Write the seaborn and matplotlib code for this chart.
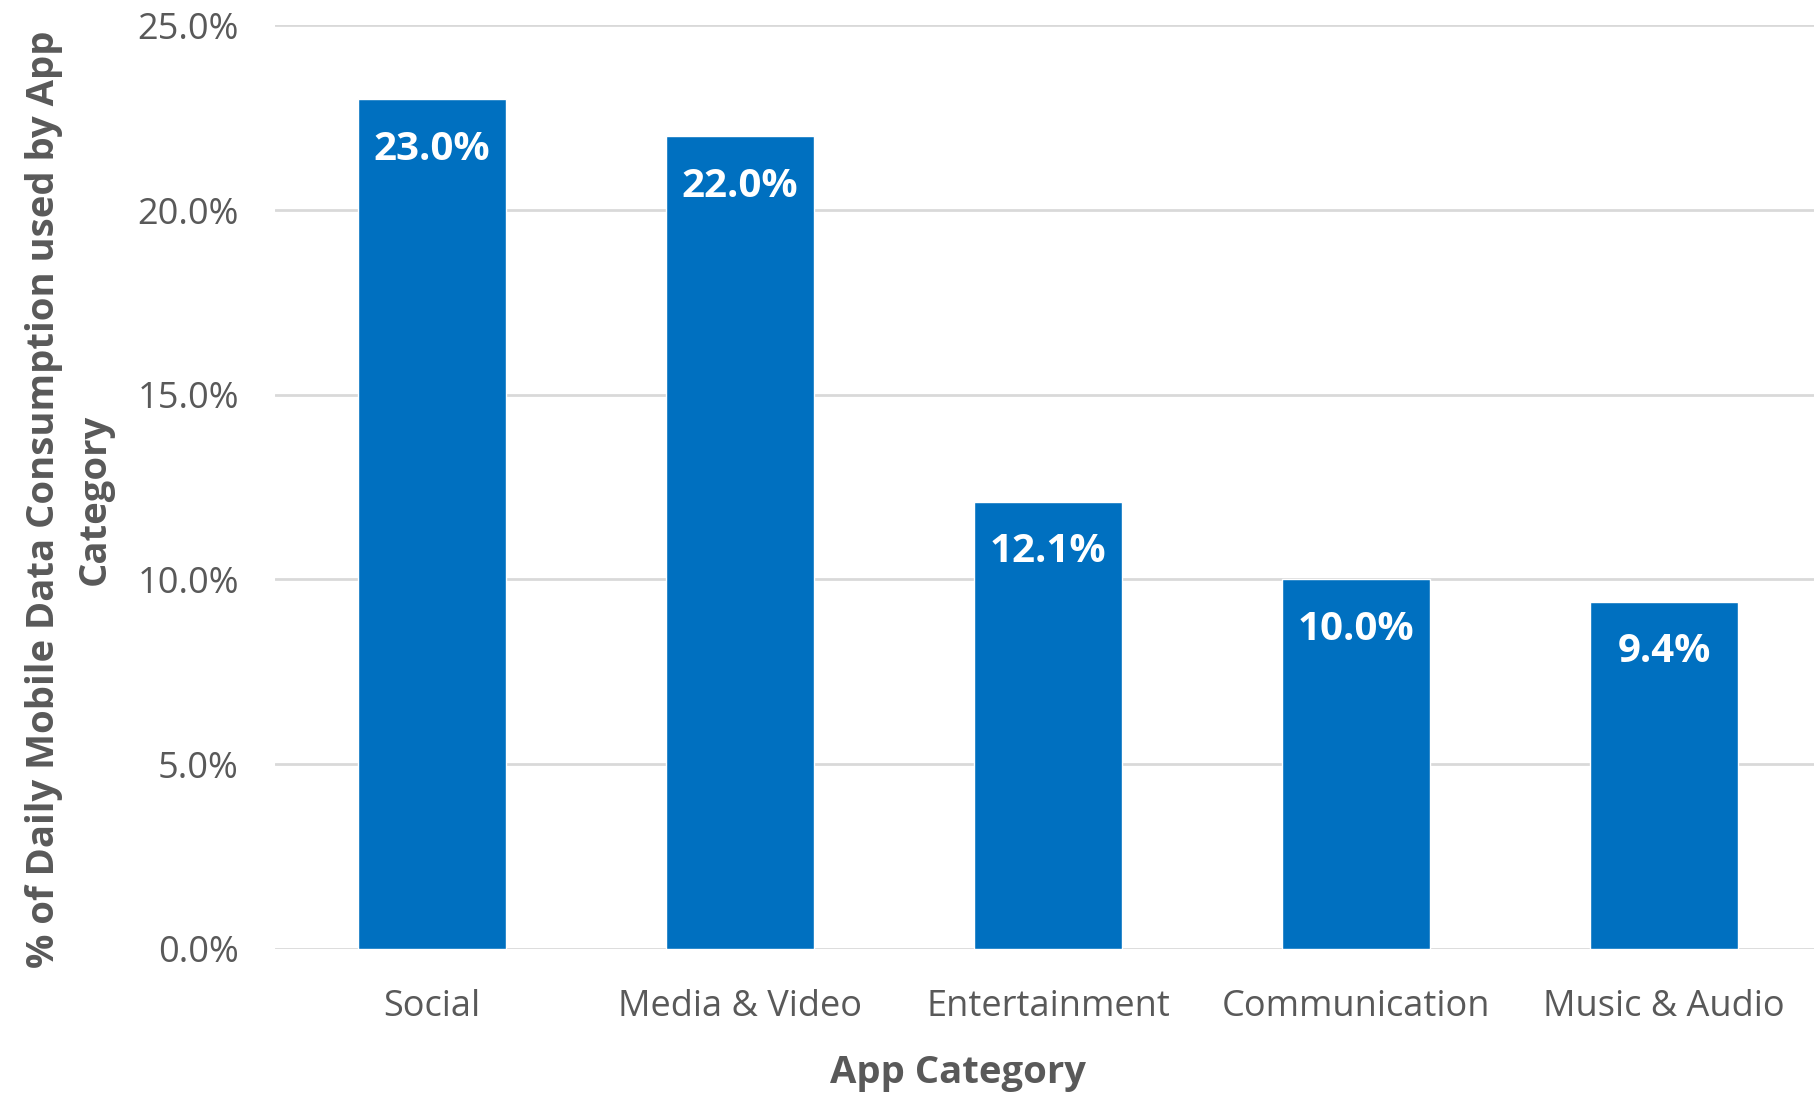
import matplotlib
matplotlib.use("Agg")
import matplotlib.pyplot as plt
import seaborn as sns
import pandas as pd
from matplotlib.ticker import FuncFormatter

categories = ["Social", "Media & Video", "Entertainment", "Communication", "Music & Audio"]
values = [23.0, 22.0, 12.1, 10.0, 9.4]
y_ticks = [0, 5, 10, 15, 20, 25]

sns.set_theme(style="white")
plt.rcParams['font.family'] = ['Open Sans', 'DejaVu Sans']

df = pd.DataFrame({"cat": categories, "val": values})

fig = plt.figure(figsize=(18.15, 10.93), dpi=100)
ax = fig.add_axes([0.1515, 0.132, 0.8485, 0.8448])

sns.barplot(data=df, x="cat", y="val", color="#0070C0", width=0.48, ax=ax,
            saturation=1, zorder=3)

ax.set_ylim(0, 25)
ax.set_xlim(-0.51, 4.49)
ax.set_yticks(y_ticks)
ax.yaxis.set_major_formatter(FuncFormatter(lambda v, p: f"{v:.1f}%"))
ax.grid(axis="y", color="#D9D9D9", linewidth=2, zorder=0)
ax.set_axisbelow(True)
for s in ax.spines.values():
    s.set_visible(False)

ax.tick_params(axis="both", length=0, labelsize=26, labelcolor="#595959")
ax.tick_params(axis="x", pad=29)
ax.tick_params(axis="y", pad=26)

for i, v in enumerate(values):
    ax.annotate(f"{v:.1f}%", xy=(i, v), xytext=(0, -50), textcoords="offset pixels",
                ha="center", va="center", color="white", fontsize=29, fontweight="bold")

ax.set_xlabel("App Category", fontsize=27.5, fontweight="bold", color="#595959")
ax.set_ylabel("% of Daily Mobile Data Consumption used by App\nCategory", fontsize=27.5,
              fontweight="bold", color="#595959", linespacing=1.42)
ax.xaxis.set_label_coords(0.4435, -0.1145)
ax.yaxis.set_label_coords(-0.105, 0.487)

fig.savefig("out.png", dpi=100)
